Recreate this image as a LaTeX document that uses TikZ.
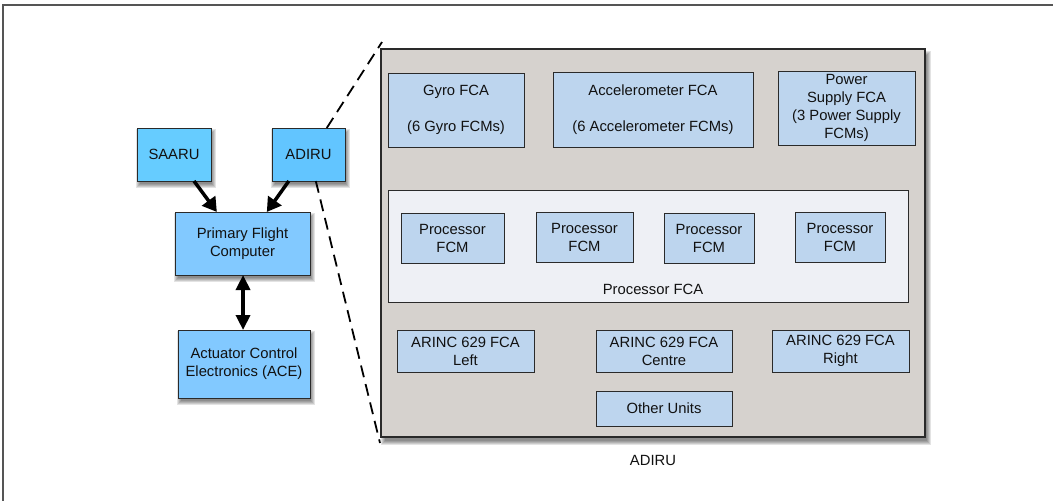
\documentclass[tikz,border=0pt]{standalone}
\usepackage{fontspec}
\setmainfont{Liberation Sans}
\usetikzlibrary{arrows.meta,calc}
\definecolor{saarucol}{HTML}{66CCFF}
\definecolor{adirucol}{HTML}{62C5FF}
\definecolor{pfccol}{HTML}{82C9FF}
\definecolor{bigcol}{HTML}{D6D2CE}
\definecolor{innercol}{HTML}{BDD5EE}
\definecolor{proccol}{HTML}{EEF0F5}
\definecolor{edgecol}{HTML}{2A2A2A}
\definecolor{framecol}{HTML}{555555}
\definecolor{txtcol}{HTML}{111111}
\newcommand\mybox[7]{\node[#6, minimum width={#4-#2}, minimum height={#5-#3}] (#1) at ({(#2+#4)/2},{(#3+#5)/2}) {#7};}
% soft drop shadow drawn from the corners of a box: #1 x1, #2 y1, #3 x2, #4 y2, #5 dx, #6 dy
\newcommand\mysoftshadow[6]{%
  \foreach \e in {-1,0,1,2,3}{%
    \fill[black, opacity=0.11] ({#1+#5-\e},{#2+#6-\e}) rectangle ({#3+#5+\e},{#4+#6+\e});
  }%
}
\begin{document}
\begin{tikzpicture}[x=1pt,y=-1pt,
  every node/.style={font=\fontsize{14.8pt}{18pt}\selectfont, text=txtcol},
  boxbase/.style={draw=edgecol, line width=1pt, inner sep=0pt, outer sep=0pt, align=center},
  leftbox/.style={boxbase},
  innerbox/.style={boxbase, fill=innercol},
  bigarrow/.style={line width=3.5pt, -{Triangle[length=14pt,width=16pt]}},
  dblarrow/.style={line width=3.5pt, {Triangle[length=15pt,width=14pt]}-{Triangle[length=15pt,width=14pt]}},
  zoomline/.style={line width=1.8pt, dash pattern=on 12pt off 7pt}
]
\useasboundingbox (0,0) rectangle (1053,501);
\fill[white] (0,0) rectangle (1053,501);
\draw[framecol, line width=1.3pt] (3,510) -- (3,5) -- (1060,5);

% shadows
\mysoftshadow{137}{128}{211}{181}{2}{4}
\mysoftshadow{272}{128}{345}{181}{2}{4}
\mysoftshadow{175}{212}{310}{275}{2}{4}
\mysoftshadow{178}{330}{310}{398}{2}{4}
\mysoftshadow{381}{49}{925}{437}{3}{5}

% left diagram
\mybox{saaru}{137}{128}{211}{181}{leftbox, fill=saarucol}{SAARU}
\mybox{adiru}{272}{128}{345}{181}{leftbox, fill=adirucol}{ADIRU}
\mybox{pfc}{175}{212}{310}{275}{leftbox, fill=pfccol}{Primary Flight\\Computer}
\mybox{ace}{178}{330}{310}{398}{leftbox, fill=pfccol}{Actuator Control\\Electronics (ACE)}

\draw[bigarrow] ($(saaru.south west)!0.77!(saaru.south east)$) -- ($(pfc.north west)!0.31!(pfc.north east)$);
\draw[bigarrow] ($(adiru.south west)!0.23!(adiru.south east)$) -- ($(pfc.north west)!0.68!(pfc.north east)$);
\coordinate (pfcb) at ($(pfc.south west)!0.504!(pfc.south east)$);
\draw[dblarrow] (pfcb) -- (pfcb |- ace.north);

% zoom lines
\coordinate (zt) at (382,42);
\coordinate (zb) at (380,443);
\draw[zoomline] ($(adiru.north west)!0.75!(adiru.north east)$) -- (zt);
\draw[zoomline] ($(adiru.south west)!0.6!(adiru.south east)$) -- (zb);

% big ADIRU box
\mybox{big}{381}{49}{925}{437}{boxbase, line width=1.3pt, fill=bigcol}{}
\node (bigtitle) at (653,460) {ADIRU};

\mybox{gyro}{388}{73}{524}{147}{innerbox}{Gyro FCA\\[18pt](6 Gyro FCMs)}
\mybox{accel}{553}{72}{753}{147}{innerbox}{Accelerometer FCA\\[18pt](6 Accelerometer FCMs)}
\mybox{power}{778}{71}{915}{145}{innerbox}{Power\\Supply FCA\\(3 Power Supply\\FCMs)}

\mybox{procfca}{388}{190}{908}{302}{boxbase, fill=proccol}{}
\node (proclabel) at (653,289) {Processor FCA};
\mybox{fcma}{401}{213}{504}{263}{innerbox}{Processor\\FCM}
\mybox{fcmb}{536}{212}{633}{262}{innerbox}{Processor\\FCM}
\mybox{fcmc}{664}{213}{754}{263}{innerbox}{Processor\\FCM}
\mybox{fcmd}{795}{212}{885}{262}{innerbox}{Processor\\FCM}

\mybox{arl}{397}{330}{534}{372}{innerbox}{ARINC 629 FCA\\Left}
\mybox{arc}{596}{330}{732}{372}{innerbox}{ARINC 629 FCA\\Centre}
\mybox{arr}{772}{330}{909}{372}{innerbox}{ARINC 629 FCA\\Right}
\mybox{other}{596}{391}{732}{426}{innerbox}{Other Units}
\end{tikzpicture}
\end{document}
